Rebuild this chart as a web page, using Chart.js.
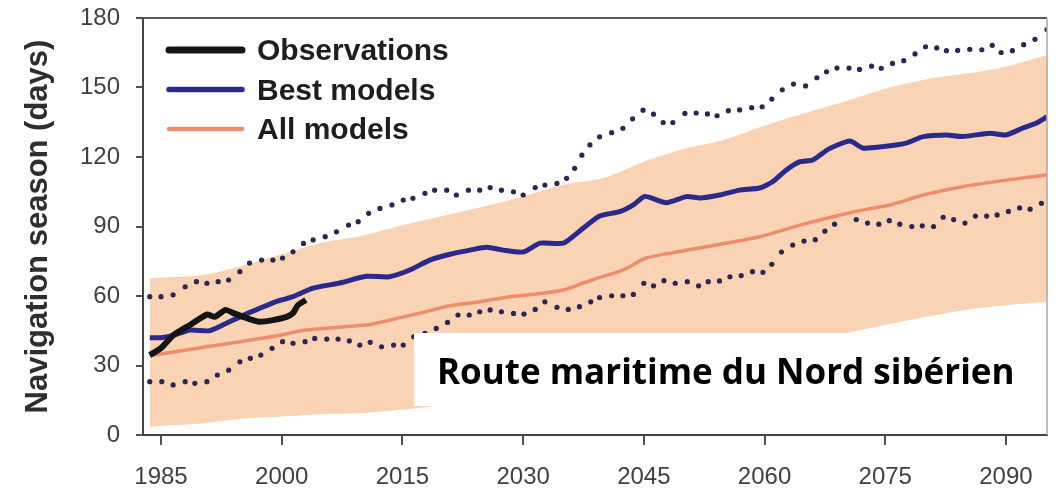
<!DOCTYPE html>
<html>
<head>
<meta charset="utf-8">
<script src="https://cdn.jsdelivr.net/npm/chart.js@4.4.1/dist/chart.umd.min.js"></script>
<style>
  html, body { margin: 0; padding: 0; background: #fff; }
</style>
</head>
<body>
<canvas id="saison" width="1064" height="489"></canvas>
<script>
// navigation season on the Northern Sea Route, in days per year
const seriesNames = ["Observations", "Best models", "All models"];
const caption = "Route maritime du Nord sibérien";

const xTicks = [1985, 2000, 2015, 2030, 2045, 2060, 2075, 2090];
const yTicks = [0, 30, 60, 90, 120, 150, 180];

const obsYears = [1983.6, 1985, 1986.5, 1988.6, 1990.7, 1991.7, 1993, 1994, 1995.2, 1996.4, 1997.3, 1998.9, 2000.6, 2001.4, 2002, 2003];
const obsDays = [34.5, 37.5, 43, 47.5, 52, 51, 54, 52.6, 51, 49.6, 48.9, 49.6, 51, 52.6, 56, 58.3];

const bestYears = [1983.6, 1985, 1986.5, 1988.6, 1991, 1993, 1994.8, 1996.8, 1998.9, 2000, 2001.4, 2003.9, 2007.2, 2010.5, 2013.4, 2015.9, 2018.4, 2020.9, 2023.4, 2025.5, 2027.5, 2030, 2032.1, 2035, 2037, 2039.5, 2042, 2043.7, 2045.1, 2047.8, 2050.3, 2052, 2054.4, 2056.9, 2059.4, 2061, 2062.7, 2064.4, 2066, 2068, 2070.6, 2072.2, 2074.3, 2077.6, 2079.7, 2082.6, 2084.6, 2088, 2090, 2092.1, 2093.8, 2095.1];
const bestDays = [42, 42, 43, 45.3, 45, 48, 51, 54, 57, 58.3, 59.7, 63.4, 65.6, 68.5, 68.3, 71.2, 75.5, 78, 79.8, 81, 79.8, 79, 82.8, 82.8, 88, 94.5, 96.4, 99.3, 103, 100.3, 102.9, 102.3, 103.6, 105.7, 106.6, 109.3, 114.4, 118, 118.7, 123.5, 126.9, 123.9, 124.3, 126, 128.8, 129.5, 128.8, 130.3, 129.5, 132.5, 134.7, 137.4];

const allYears = [1983.6, 1990.7, 1998.9, 2003, 2011, 2013.4, 2017.2, 2020.9, 2024.6, 2028.4, 2031.7, 2035, 2037.4, 2039.5, 2042.4, 2045.3, 2049.8, 2054, 2059.4, 2064.4, 2068, 2072.2, 2075.6, 2079.7, 2084.6, 2089.6, 2095.1];
const allDays = [34.2, 38.1, 42.5, 45.3, 47.7, 49.6, 52.6, 55.8, 57.5, 59.7, 60.9, 62.6, 65.5, 68, 71.2, 76.4, 79.4, 82, 85.6, 90.6, 93.8, 97.1, 99.3, 103.6, 107.2, 109.8, 112.2];

// best models spread (dotted)
const upperYears = [1983.6, 1985, 1986.5, 1988, 1989.4, 1990.7, 1992.1, 1993.4, 1994.8, 1996, 1997.5, 1998.9, 2000.1, 2001.4, 2002.7, 2003.9, 2005.4, 2006.8, 2008.3, 2009.5, 2010.8, 2012.2, 2013.7, 2015.1, 2016.3, 2017.8, 2019, 2020.5, 2021.7, 2023.2, 2024.6, 2025.9, 2027.3, 2028.8, 2030, 2031.5, 2032.7, 2034.2, 2035.4, 2036.4, 2037.3, 2038.3, 2039.5, 2041, 2042.4, 2043.6, 2044.9, 2046.2, 2047.4, 2048.6, 2050.1, 2051.5, 2052.9, 2054.1, 2055.5, 2056.9, 2058.4, 2059.7, 2060.9, 2062.2, 2063.6, 2065.1, 2066.5, 2067.7, 2069, 2070.5, 2071.8, 2073.3, 2074.5, 2075.9, 2077.3, 2078.7, 2080, 2081.4, 2082.6, 2084, 2085.5, 2087, 2088.3, 2089.4, 2090.8, 2092.2, 2093.6, 2095.1];
const upperDays = [59.7, 59.7, 60.5, 64, 66.2, 65.5, 66.2, 66.9, 70.5, 74.2, 75.5, 75.5, 76.4, 79.1, 82.7, 84.2, 85.6, 87.7, 90.6, 92.1, 95.7, 97.8, 99.3, 101.4, 102.2, 104.3, 105.7, 105.7, 103.6, 105.7, 105.7, 106.8, 105.7, 105, 103.6, 106.8, 107.9, 108.6, 110.8, 115.1, 120.8, 125.2, 128.7, 130.5, 132.4, 136.5, 140.2, 138.5, 134.9, 134.9, 138.8, 139, 138.6, 137.8, 140, 140.3, 141.3, 141.7, 145, 149, 151.5, 150.7, 154.2, 156.8, 158.4, 158.4, 157.8, 159.2, 158.3, 160.4, 161.6, 164.5, 167.6, 167.1, 165.9, 166, 166.5, 166.3, 168.2, 165.1, 165.9, 168.5, 170.8, 175];

const lowerYears = [1983.6, 1985.1, 1986.5, 1988, 1989.2, 1990.7, 1992, 1993.4, 1994.8, 1996.1, 1997.4, 1998.8, 2000.1, 2001.4, 2002.9, 2004.1, 2005.6, 2007, 2008.4, 2009.7, 2011, 2012.4, 2013.9, 2015.1, 2016.4, 2017.8, 2019.2, 2020.6, 2021.9, 2023.3, 2024.6, 2025.9, 2027.3, 2028.8, 2030.1, 2031.5, 2032.7, 2034.2, 2035.6, 2037, 2038.4, 2039.5, 2041, 2042.4, 2043.7, 2045, 2046.2, 2047.5, 2048.9, 2050.4, 2051.8, 2053, 2054.4, 2055.7, 2057.1, 2058.5, 2059.8, 2060.9, 2062.1, 2063.5, 2064.9, 2066.3, 2067.5, 2068.7, 2071.4, 2072.8, 2074.2, 2075.5, 2076.8, 2078.3, 2079.6, 2081, 2082.2, 2083.5, 2084.9, 2086.2, 2087.6, 2088.9, 2090.3, 2091.7, 2093, 2094.4];
const lowerDays = [23, 23, 21.6, 23, 22.3, 23, 25.9, 28, 31.6, 33.1, 34.5, 37.4, 40.3, 39.6, 40.3, 41.7, 41.4, 41.4, 40.6, 38.8, 40, 38.1, 38.8, 38.8, 42.4, 43.9, 46, 48.6, 51.8, 51.8, 53.2, 54, 53.2, 52.5, 52.2, 54.2, 57.5, 55.1, 54.2, 55.4, 57.5, 59.3, 60.1, 60.1, 60.7, 65.5, 64.4, 66.6, 65.5, 66.2, 64.4, 66.2, 66.5, 68.3, 68.8, 70.5, 70.2, 73.7, 79, 82, 83.7, 84.3, 88, 91, 93, 91.5, 91, 92.5, 91, 90, 90.3, 90, 94, 93, 91.5, 94.5, 94.5, 95, 96.5, 98, 97.5, 100];

// all models range (shaded)
const bandYears = [1983.6, 1985, 1990, 1995, 2000, 2005, 2010, 2015, 2020, 2025, 2030, 2035, 2040, 2045, 2050, 2055, 2060, 2065, 2070, 2075, 2080, 2085, 2090, 2095.1];
const bandHigh = [67.6, 68, 69, 73, 78, 83, 86, 90.5, 94.5, 98.5, 103, 108, 111, 118, 123.5, 127.5, 133.5, 139, 144, 149.5, 153.5, 156, 159, 164];
const bandLow = [3.5, 4, 5, 7, 8, 9, 9.5, 11, 13, 16, 19, 22, 26, 29, 32, 35, 38, 41, 44, 47.5, 51, 54, 56, 57.5];

function points(xs, ys) {
  const out = [];
  for (let i = 0; i < Math.min(xs.length, ys.length); i++) out.push({ x: xs[i], y: ys[i] });
  return out;
}

const dotColour = "#2b2652";
const tickFont = { family: "'Liberation Sans', Arial, sans-serif", size: 24 };

// legend, frame and caption box drawn over the plot
const cadre = {
  id: "cadre",
  afterDatasetsDraw(chart) {
    const { ctx, chartArea: a } = chart;
    ctx.save();

    ctx.strokeStyle = "#5a5a5a";
    ctx.lineWidth = 2;
    ctx.beginPath();
    ctx.moveTo(a.left, a.top);
    ctx.lineTo(a.right, a.top);
    ctx.stroke();
    ctx.strokeStyle = "#a8a8a8";
    ctx.lineWidth = 1.5;
    ctx.beginPath();
    ctx.moveTo(a.right, a.top);
    ctx.lineTo(a.right, a.bottom);
    ctx.stroke();

    const widths = [7, 5.5, 4.5];
    ctx.font = "bold 30px 'Liberation Sans', Arial, sans-serif";
    ctx.textBaseline = "middle";
    for (let i = 0; i < 3; i++) {
      const ds = chart.data.datasets[i];
      const y = a.top + 32 + i * 39.5;
      ctx.strokeStyle = ds.borderColor;
      ctx.lineWidth = widths[i];
      ctx.lineCap = "round";
      ctx.beginPath();
      ctx.moveTo(a.left + 26, y);
      ctx.lineTo(a.left + 99, y);
      ctx.stroke();
      ctx.fillStyle = "#1e1e1e";
      ctx.fillText(ds.label, a.left + 114, y + 2);
    }

    ctx.fillStyle = "#fff";
    ctx.fillRect(414, 333, 629, 73);
    let size = 36;
    ctx.font = "bold " + size + "px 'Open Sans', sans-serif";
    size = size * 577 / ctx.measureText(caption).width;
    ctx.font = "bold " + size.toFixed(1) + "px 'Open Sans', sans-serif";
    ctx.fillStyle = "#000";
    ctx.textBaseline = "alphabetic";
    ctx.fillText(caption, 437, 384);

    ctx.restore();
  }
};

new Chart(document.getElementById("saison"), {
  type: "line",
  data: {
    datasets: [
      { label: seriesNames[0], data: points(obsYears, obsDays), borderColor: "#141414", borderWidth: 6, pointRadius: 0, tension: 0.2 },
      { label: seriesNames[1], data: points(bestYears, bestDays), borderColor: "#2a2a8c", borderWidth: 5, pointRadius: 0, tension: 0.2 },
      { label: seriesNames[2], data: points(allYears, allDays), borderColor: "#ee8d6c", borderWidth: 3.5, pointRadius: 0, tension: 0.2 },
      { label: "upper", data: points(upperYears, upperDays), showLine: false, pointRadius: 2.6, pointBorderWidth: 0, pointBackgroundColor: dotColour, borderColor: dotColour },
      { label: "lower", data: points(lowerYears, lowerDays), showLine: false, pointRadius: 2.6, pointBorderWidth: 0, pointBackgroundColor: dotColour, borderColor: dotColour },
      { label: "high", data: points(bandYears, bandHigh), fill: "+1", backgroundColor: "#f9d3b3", borderColor: "rgba(0,0,0,0)", borderWidth: 0, pointRadius: 0, tension: 0.3 },
      { label: "low", data: points(bandYears, bandLow), fill: false, borderColor: "rgba(0,0,0,0)", borderWidth: 0, pointRadius: 0, tension: 0.3 }
    ]
  },
  options: {
    responsive: false,
    animation: false,
    events: [],
    layout: { padding: { top: 18, right: 17, left: 0, bottom: 0 } },
    plugins: { legend: { display: false }, tooltip: { enabled: false } },
    scales: {
      x: {
        type: "linear",
        min: 1982.76,
        max: 2095.1,
        afterBuildTicks: (s) => { s.ticks = xTicks.map((v) => ({ value: v })); },
        afterFit: (s) => { s.height = 54; s.paddingLeft = 0; s.paddingRight = 0; },
        ticks: { font: tickFont, color: "#404040", padding: 18, maxRotation: 0, callback: (v) => String(v) },
        grid: { drawOnChartArea: false, drawTicks: true, tickLength: 10, color: "#505050", lineWidth: 2 },
        border: { display: true, color: "#454545", width: 2 }
      },
      y: {
        min: 0,
        max: 180,
        afterBuildTicks: (s) => { s.ticks = yTicks.map((v) => ({ value: v })); },
        afterFit: (s) => { s.width = 143; s.paddingTop = 0; s.paddingBottom = 0; },
        ticks: { font: tickFont, color: "#404040", padding: 16, callback: (v) => String(v) },
        grid: { drawOnChartArea: false, drawTicks: true, tickLength: 7, color: "#505050", lineWidth: 2 },
        border: { display: true, color: "#454545", width: 2 },
        title: {
          display: true,
          text: "Navigation season (days)",
          color: "#2e2e2e",
          font: { family: "'Liberation Sans', Arial, sans-serif", size: 31, weight: "bold" },
          padding: { top: 20, bottom: 0 }
        }
      }
    }
  },
  plugins: [cadre]
});
</script>
</body>
</html>
